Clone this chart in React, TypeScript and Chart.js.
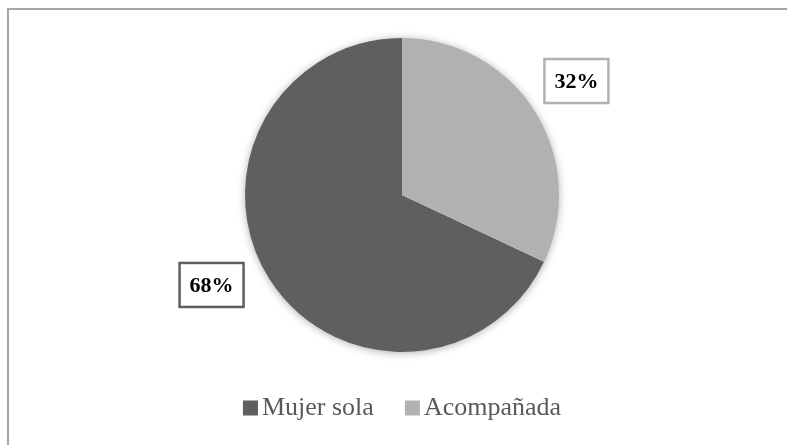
import React, { useEffect, useRef } from "react";
import { Chart, registerables } from "chart.js";

Chart.register(...registerables);

const categories = ["Mujer sola", "Acompañada"];
const values = [68, 32];
const valueLabels = ["68%", "32%"];
const sliceColors = ["#5f5f5f", "#b1b1b1"];

// label placement relative to arc centre, in units of outer radius
const labelOffsets = [
  [-1.213, 0.573],
  [1.111, -0.726],
];

const shadowPlugin = {
  id: "pieShadow",
  beforeDatasetsDraw(chart: any) {
    const ctx = chart.ctx;
    const meta = chart.getDatasetMeta(0);
    const arc = meta.data[0];
    if (!arc) return;
    ctx.save();
    ctx.shadowColor = "rgba(0,0,0,0.35)";
    ctx.shadowBlur = 9;
    ctx.shadowOffsetX = 0;
    ctx.shadowOffsetY = 1;
    ctx.fillStyle = "#ffffff";
    ctx.beginPath();
    ctx.arc(arc.x, arc.y, arc.outerRadius - 0.5, 0, Math.PI * 2);
    ctx.fill();
    ctx.restore();
  },
};

const labelPlugin = {
  id: "boxLabels",
  afterDatasetsDraw(chart: any) {
    const meta = chart.getDatasetMeta(0);
    const ctx = chart.ctx;
    ctx.save();
    ctx.font = "bold 22px 'Liberation Serif', serif";
    ctx.textAlign = "center";
    ctx.textBaseline = "middle";
    meta.data.forEach((arc: any, i: number) => {
      const r = arc.outerRadius;
      const cx = arc.x + labelOffsets[i][0] * r;
      const cy = arc.y + labelOffsets[i][1] * r;
      const text = valueLabels[i];
      const w = ctx.measureText(text).width + 20;
      const h = 44;
      ctx.fillStyle = "#ffffff";
      ctx.fillRect(cx - w / 2, cy - h / 2, w, h);
      ctx.strokeStyle = sliceColors[i];
      ctx.lineWidth = 2.5;
      ctx.strokeRect(cx - w / 2, cy - h / 2, w, h);
      ctx.fillStyle = "#000000";
      ctx.fillText(text, cx, cy + 1);
    });
    ctx.restore();
  },
};

const legendPlugin = {
  id: "customLegend",
  afterDraw(chart: any) {
    const ctx = chart.ctx;
    const area = chart.chartArea;
    ctx.save();
    ctx.font = "26px 'Liberation Serif', serif";
    ctx.textBaseline = "middle";
    const box = 15;
    const gapBoxText = 4;
    const gapItems = 31;
    const widths = categories.map((c) => box + gapBoxText + ctx.measureText(c).width);
    const total = widths.reduce((a, b) => a + b, 0) + gapItems * (categories.length - 1);
    let x = (area.left + area.right) / 2 - total / 2;
    const y = 400;
    categories.forEach((c, i) => {
      ctx.fillStyle = sliceColors[i];
      ctx.fillRect(x, y - box / 2, box, box);
      ctx.fillStyle = "#595959";
      ctx.fillText(c, x + box + gapBoxText, y);
      x += widths[i] + gapItems;
    });
    ctx.restore();
  },
};

export default function App() {
  const ref = useRef<HTMLCanvasElement | null>(null);
  useEffect(() => {
    if (!ref.current) return;
    const total = values.reduce((a, b) => a + b, 0);
    const chart = new Chart(ref.current, {
      type: "pie",
      data: {
        labels: categories,
        datasets: [
          {
            data: values,
            backgroundColor: sliceColors,
            borderWidth: 0,
          },
        ],
      },
      options: {
        animation: false,
        responsive: false,
        rotation: (values[1] / total) * 360,
        layout: { padding: { top: 30, bottom: 93, left: 9, right: 0 } },
        plugins: {
          legend: { display: false },
          tooltip: { enabled: false },
        },
      } as any,
      plugins: [shadowPlugin, labelPlugin, legendPlugin],
    });
    return () => chart.destroy();
  }, []);

  return (
    <div style={{ position: "fixed", left: 0, top: 0, width: 787, height: 445, overflow: "hidden", background: "#fff" }}>
      <div style={{ position: "absolute", left: 7, top: 8, width: 780, height: 2, background: "#a6a6a6" }} />
      <div style={{ position: "absolute", left: 7, top: 8, width: 2, height: 437, background: "#a6a6a6" }} />
      <canvas
        ref={ref}
        width={779}
        height={437}
        style={{ display: "block", position: "absolute", left: 8, top: 8 }}
      />
    </div>
  );
}
